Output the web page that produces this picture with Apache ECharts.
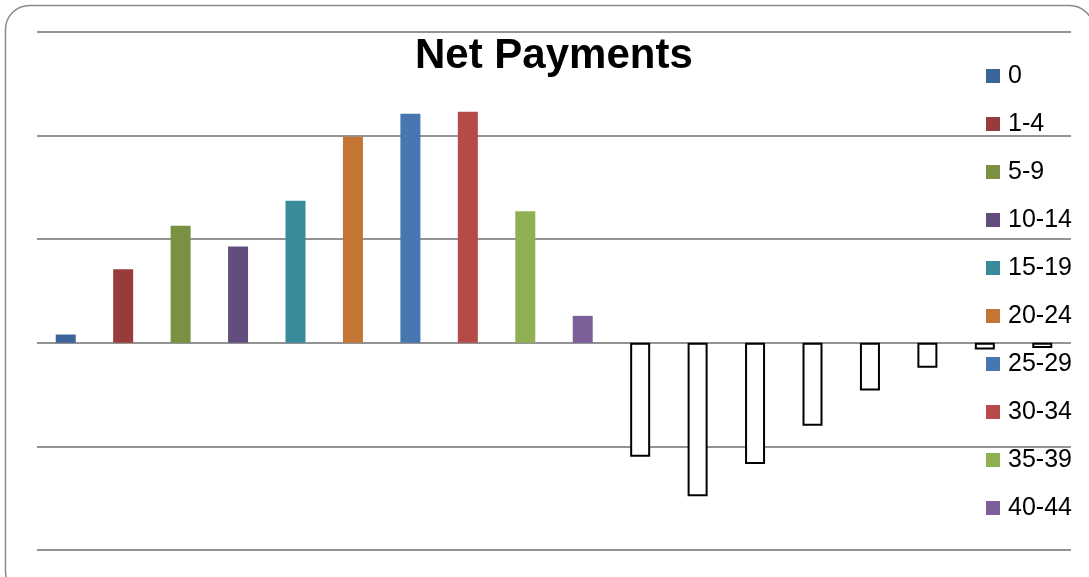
<!DOCTYPE html>
<html>
<head>
<meta charset="utf-8">
<script src="https://cdn.jsdelivr.net/npm/echarts@6/dist/echarts.min.js"></script>
<style>
  html, body { margin: 0; padding: 0; background: #fff; }
  #main { width: 1089px; height: 577px; }
</style>
</head>
<body>
<div id="main"></div>
<script>
  // age bands (categories) and net payment per band
  var categories = ['0', '1-4', '5-9', '10-14', '15-19', '20-24', '25-29', '30-34', '35-39', '40-44',
    '45-49', '50-54', '55-59', '60-64', '65-69', '70-74', '75-79', '80+'];
  var netPayments = [8, 71, 113, 93, 137, 199, 221, 223, 127, 26,
    -110, -148, -117, -80, -46, -24, -6.5, -5];
  var barColors = ['#3b6599', '#983c3b', '#7a9142', '#634c7e', '#398a9b', '#c47533',
    '#4876b0', '#b54a48', '#91b053', '#7a5f99'];
  // only the first ten fit in the legend
  var legendNames = categories.slice(0, 10);

  var myChart = echarts.init(document.getElementById('main'));

  // one series per band, so each band gets its own legend entry
  var series = categories.map(function (name, i) {
    var data = categories.map(function (c, j) {
      return j === i ? netPayments[i] : '-';
    });
    var neg = netPayments[i] < 0;
    return {
      name: name,
      type: 'bar',
      stack: 'all',
      barWidth: 20,
      data: data,
      itemStyle: neg
        ? { color: '#ffffff', borderColor: '#000000', borderWidth: 2 }
        : { color: barColors[i % barColors.length] }
    };
  });

  var option = {
    animation: false,
    color: barColors,
    title: {
      text: 'Net Payments',
      left: 410,
      top: 30,
      textStyle: {
        fontFamily: '"Liberation Sans Narrow", "Arial Narrow", "Liberation Sans", sans-serif',
        fontWeight: 'bold',
        fontSize: 42,
        color: '#000'
      }
    },
    legend: {
      data: legendNames,
      orient: 'vertical',
      left: 981,
      top: 58,
      itemWidth: 14,
      itemHeight: 14,
      itemGap: 22,
      icon: 'rect',
      textStyle: {
        fontFamily: '"Liberation Sans Narrow", "Arial Narrow", "Liberation Sans", sans-serif',
        fontSize: 25,
        color: '#000',
        lineHeight: 26,
        padding: [0, 0, 0, 3]
      }
    },
    grid: {
      left: 37,
      right: 18,
      top: 32,
      bottom: 27
    },
    xAxis: {
      type: 'category',
      data: categories,
      axisLine: { show: false },
      axisTick: { show: false },
      axisLabel: { show: false }
    },
    yAxis: {
      type: 'value',
      min: -200,
      max: 300,
      interval: 100,
      axisLine: { show: false },
      axisTick: { show: false },
      axisLabel: { show: false },
      splitLine: { lineStyle: { color: '#939393', width: 2 } }
    },
    graphic: [
      {
        type: 'rect',
        shape: { x: 5.5, y: 5.5, width: 1088, height: 590, r: 24 },
        style: { fill: 'none', stroke: '#8a8a8a', lineWidth: 1.5 },
        z: -1
      }
    ],
    series: series
  };
  myChart.setOption(option);
</script>
</body>
</html>
